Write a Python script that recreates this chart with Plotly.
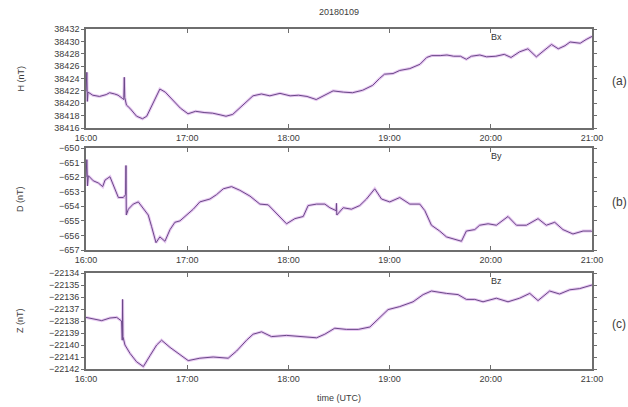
import pandas as pd
import plotly.graph_objects as go

# Magnetometer record, 2018-01-09, 16:00-21:00 UTC
DAY = "2018-01-09"
START = pd.Timestamp(f"{DAY} 16:00")

# minutes after 16:00 and field values (nT) per component
h_min = [0, 0.5, 0.8, 1.2, 4, 8, 12, 14, 17, 19,
         21.5, 22.4, 22.7, 23.0, 24, 26, 30, 33.5, 36, 40,
         43.8, 47, 52, 56, 60.5, 65, 70, 75, 80, 83,
         87, 93, 99, 104, 109, 115, 121, 126, 131, 136.5,
         140.5, 146.5, 152.5, 158, 164, 170, 174, 177, 182, 186,
         192, 198, 202, 205, 210, 214, 218, 222, 225.5, 228.5,
         233.5, 237.5, 243, 248, 252, 257, 262, 267, 271, 276,
         280, 284, 287, 293, 296.5, 300]
h_val = [38421.9, 38425.0, 38420.3, 38421.8, 38421.3, 38421.1, 38421.4, 38421.7, 38421.5, 38421.3,
         38420.8, 38420.6, 38424.2, 38420.9, 38419.7, 38419.2, 38417.9, 38417.5, 38417.9, 38420.3,
         38422.3, 38421.8, 38420.3, 38419.2, 38418.3, 38418.7, 38418.5, 38418.4, 38418.1, 38417.9,
         38418.2, 38419.7, 38421.2, 38421.5, 38421.2, 38421.6, 38421.2, 38421.3, 38421.1, 38420.6,
         38421.2, 38422.0, 38421.8, 38421.7, 38422.1, 38422.9, 38424.0, 38424.7, 38424.8, 38425.3,
         38425.6, 38426.3, 38427.4, 38427.7, 38427.7, 38427.8, 38427.6, 38427.6, 38427.1, 38427.6,
         38427.8, 38427.5, 38427.6, 38427.9, 38427.4, 38428.3, 38428.8, 38427.5, 38428.4, 38429.5,
         38428.8, 38429.3, 38429.9, 38429.7, 38430.3, 38430.8]

d_min = [0, 0.5, 0.9, 1.4, 4.3, 7.3, 9.9, 11.3, 14.2, 16.2,
         19.2, 22.1, 23.5, 23.7, 23.9, 25.1, 28, 31, 34, 36.9,
         38.9, 41.5, 43.8, 46.8, 49.8, 52.7, 55.7, 59.6, 63.6, 67.5,
         73.5, 77.4, 81.4, 86.3, 91.2, 97.2, 103.1, 108, 113, 118.9,
         123.8, 128.8, 131.7, 136.7, 141.6, 144.6, 148.3, 148.5, 148.7, 152.5,
         157.4, 162.3, 166.3, 171.2, 175.2, 180.1, 186, 192, 197.9, 200.9,
         204.8, 209.7, 213.7, 218.6, 222.6, 225.5, 230.5, 233.4, 238.4, 243.3,
         250.2, 255.2, 261.1, 268, 272.9, 277.9, 282.8, 288.7, 294.7, 299.6,
         300]
d_val = [-652.0, -650.8, -652.6, -651.9, -652.25, -652.4, -652.65, -652.2, -651.97, -652.5,
         -653.4, -653.4, -653.2, -651.2, -654.6, -654.2, -653.85, -653.7, -654.2, -654.6,
         -655.4, -656.5, -656.1, -656.4, -655.6, -655.1, -655.0, -654.6, -654.2, -653.7,
         -653.5, -653.2, -652.8, -652.65, -652.9, -653.3, -653.85, -653.9, -654.5, -655.2,
         -654.85, -654.7, -653.95, -653.85, -653.85, -654.1, -654.3, -653.8, -654.6, -654.1,
         -654.2, -653.95, -653.5, -652.8, -653.5, -653.7, -653.4, -653.85, -653.85, -654.3,
         -655.3, -655.7, -656.1, -656.25, -656.4, -655.7, -655.6, -655.3, -655.2, -655.3,
         -654.7, -655.3, -655.3, -654.85, -655.3, -655.1, -655.6, -655.9, -655.7, -655.7,
         -655.75]

z_min = [0, 4.3, 9.3, 14.2, 18.2, 21.1, 21.5, 21.7, 21.9, 23.1,
         26.1, 30, 34, 37.9, 41.9, 44.8, 49.8, 55.7, 60.6, 67.5,
         75.4, 84.3, 89.3, 95.2, 99.1, 104.1, 110, 118.9, 126.8, 136.7,
         141.6, 147.5, 154.4, 161.4, 168.3, 174.2, 179.1, 186, 193.9, 199.9,
         204.8, 213.7, 220.6, 225.5, 230.5, 235.4, 243.3, 250.2, 257.1, 263.1,
         268, 274.9, 280.8, 286.8, 292.7, 300]
z_val = [-22137.7, -22137.8, -22137.97, -22137.75, -22137.7, -22138.0, -22139.6, -22136.2, -22139.3, -22140.0,
         -22140.7, -22141.4, -22141.8, -22140.9, -22140.0, -22139.6, -22140.2, -22140.8, -22141.3, -22141.1,
         -22141.0, -22141.1, -22140.5, -22139.6, -22139.1, -22138.9, -22139.3, -22139.2, -22139.3, -22139.4,
         -22139.1, -22138.6, -22138.7, -22138.7, -22138.5, -22137.7, -22137.05, -22136.8, -22136.4, -22135.8,
         -22135.5, -22135.7, -22135.8, -22136.2, -22136.2, -22136.4, -22136.1, -22136.4, -22136.1, -22135.7,
         -22136.3, -22135.5, -22135.75, -22135.4, -22135.3, -22135.0]

panels = [
    dict(t=h_min, v=h_val, ylab="H (nT)", comp="Bx", tag="(a)", yr=[38416, 38432], dt=2),
    dict(t=d_min, v=d_val, ylab="D (nT)", comp="By", tag="(b)", yr=[-657, -650], dt=1),
    dict(t=z_min, v=z_val, ylab="Z (nT)", comp="Bz", tag="(c)", yr=[-22142, -22134], dt=1),
]

W, H = 628, 407
# plot-area pixel boxes (top, bottom) for each panel
boxes = [(29, 128), (148, 250), (273, 369)]
x_dom = [86 / W, 592 / W]

FONT = "Liberation Sans, Arial, sans-serif"
AX = "#6e6e6e"
TXT = "#3c3c3c"

fig = go.Figure()
layout = dict(
    width=W, height=H,
    margin=dict(l=0, r=0, t=0, b=0, autoexpand=False),
    paper_bgcolor="white", plot_bgcolor="white",
    showlegend=False,
    font=dict(family=FONT, size=9, color=TXT),
)
annotations = []


def label(text, px, py, size=9, color=TXT, **kw):
    return dict(text=text, x=px / W, y=1 - py / H, xref="paper", yref="paper",
                yanchor="middle", showarrow=False, font=dict(size=size, color=color), **kw)


for i, p in enumerate(panels):
    n = "" if i == 0 else str(i + 1)
    times = [START + pd.Timedelta(minutes=m) for m in p["t"]]
    # soft magenta halo under a darker trace
    fig.add_trace(go.Scatter(x=times, y=p["v"], mode="lines",
                             line=dict(color="rgba(210,150,230,0.5)", width=3),
                             xaxis="x" + n, yaxis="y" + n, hoverinfo="skip"))
    fig.add_trace(go.Scatter(x=times, y=p["v"], mode="lines",
                             line=dict(color="#6a4888", width=1.0),
                             xaxis="x" + n, yaxis="y" + n))
    top, bot = boxes[i]
    y_dom = [1 - bot / H, 1 - top / H]
    layout["xaxis" + n] = dict(
        domain=x_dom, anchor="y" + n, type="date", automargin=False,
        range=[f"{DAY} 16:00", f"{DAY} 21:00"],
        dtick=3600000, tickformat="%H:%M",
        ticks="inside", ticklen=4, tickcolor=AX, mirror="ticks",
        showline=True, linecolor=AX, linewidth=1.6, showgrid=False, zeroline=False,
        tickfont=dict(size=9, color=TXT),
    )
    layout["yaxis" + n] = dict(
        domain=y_dom, anchor="x" + n, range=p["yr"], dtick=p["dt"], tick0=p["yr"][0],
        tickformat="d", automargin=False,
        ticks="outside", ticklen=3, tickcolor=AX, mirror="ticks",
        showline=True, linecolor=AX, linewidth=1.6, showgrid=False, zeroline=False,
        tickfont=dict(size=9, color=TXT),
    )
    mid = (top + bot) / 2
    annotations += [
        label(p["ylab"], 13, mid, textangle=-90),
        label(p["comp"], 504, top + 8, color="#333"),
        label(p["tag"], 610, mid + 3, size=12, xanchor="left"),
    ]

annotations += [
    label("20180109", 339, 12),
    label("time (UTC)", 339, 398),
]
layout["annotations"] = annotations
fig.update_layout(**layout)
fig.write_html("out.html")
